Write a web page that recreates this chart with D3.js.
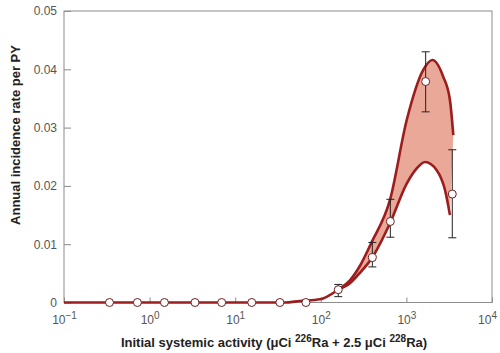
<!DOCTYPE html>
<html>
<head>
<meta charset="utf-8">
<script src="https://cdn.jsdelivr.net/npm/d3@7"></script>
<style>
 body{margin:0;background:#fff}
 svg text{font-family:"Liberation Sans",Arial,sans-serif}
</style>
</head>
<body>
<div id="container"></div>
<script>
const width = 500
const height = 353
const margin = {left:64, top:11, right:8, bottom:50.5}
const g_width = width - margin.left - margin.right
const g_height = height - margin.top - margin.bottom

// data
const zeroDose = [0.34, 0.72, 1.49, 3.39, 6.95, 15.6, 33.3, 67]
const ptDose = [160, 400, 649, 1679, 3436]
const ptRate = [0.0022, 0.0077, 0.0139, 0.0379, 0.0186]
const errHigh = [0.0031, 0.0103, 0.0177, 0.0430, 0.0262]
const errLow = [0.0010, 0.0061, 0.0112, 0.0327, 0.0111]

const upperDose = [0.1, 38, 57, 98, 159, 219, 287, 394, 643, 1009, 1574, 2009, 2698, 3228, 3532]
const upperRate = [0, 0, 0.00026, 0.00055, 0.0022, 0.0038, 0.0063, 0.0104, 0.0176, 0.0313, 0.0399, 0.0416, 0.0387, 0.0347, 0.0287]
const lowerDose = [159, 219, 287, 394, 643, 1009, 1321, 1652, 2259, 2825, 3228]
const lowerRate = [0.0022, 0.0033, 0.0051, 0.0076, 0.0136, 0.0204, 0.0230, 0.0241, 0.0227, 0.0193, 0.0150]

const xTicks = [0.1, 1, 10, 100, 1000, 10000]
const yTicks = [0, 0.01, 0.02, 0.03, 0.04, 0.05]

const red = '#9c1d1d'

const svg = d3.select('#container')
  .append('svg')
  .attr('width', width)
  .attr('height', height)

const g = svg.append('g')
  .attr('transform', `translate(${margin.left},${margin.top})`)

const scale_x = d3.scaleLog().domain([0.1, 10000]).range([0, g_width])
const scale_y = d3.scaleLinear().domain([0, 0.05]).range([g_height, 0])

// frame
g.append('rect')
  .attr('width', g_width).attr('height', g_height)
  .attr('fill', 'none').attr('stroke', '#8c8c8c').attr('stroke-width', 1)

// axes
const y_axis = d3.axisLeft(scale_y).tickValues(yTicks).tickSize(-7).tickPadding(7)
  .tickFormat(d => d === 0 ? '0' : d3.format('.2f')(d))
const yg = g.append('g').call(y_axis)
yg.select('.domain').remove()
yg.selectAll('line').attr('stroke', '#8c8c8c')
yg.selectAll('text').attr('fill', '#555').attr('font-size', 12)

const x_axis = d3.axisBottom(scale_x).tickValues(xTicks).tickSize(-5).tickPadding(13)
  .tickFormat('')
const xg = g.append('g').attr('transform', `translate(0,${g_height})`).call(x_axis)
xg.select('.domain').remove()
xg.selectAll('line').attr('stroke', '#8c8c8c')
xg.selectAll('.tick text').each(function(d){
  const t = d3.select(this).attr('fill', '#555').attr('font-size', 12)
  if (d === 10000) t.attr('dx', -5)
  t.append('tspan').text('10')
  t.append('tspan').attr('dy', -5).attr('font-size', 10)
    .text(String(Math.round(Math.log10(d))).replace('-', '\u2212'))
})

// band
const line = d3.line()
  .x(d => scale_x(d[0]))
  .y(d => scale_y(d[1]))
  .curve(d3.curveMonotoneX)

const upper = upperDose.map((d, i) => [d, upperRate[i]])
const lower = lowerDose.map((d, i) => [d, lowerRate[i]])
const upperBand = upper.filter(d => d[0] >= lowerDose[0])

// path: upper forward, then lower backwards
const pathLower = lower.slice().reverse()
g.append('path')
  .attr('d', line(upperBand) + 'L' + line(pathLower).slice(1) + 'Z')
  .attr('fill', '#eaa898')
  .attr('stroke', 'none')

g.append('path').attr('d', line(upper))
  .attr('fill', 'none').attr('stroke', red).attr('stroke-width', 2.6)
g.append('path').attr('d', line(lower))
  .attr('fill', 'none').attr('stroke', red).attr('stroke-width', 2.6)

// error bars
const eb = g.selectAll('.eb').data(ptDose).enter().append('g')
eb.append('line')
  .attr('x1', d => scale_x(d)).attr('x2', d => scale_x(d))
  .attr('y1', (d, i) => scale_y(errHigh[i])).attr('y2', (d, i) => scale_y(errLow[i]))
  .attr('stroke', '#222').attr('stroke-width', 1)
eb.append('line')
  .attr('x1', d => scale_x(d) - 4).attr('x2', d => scale_x(d) + 4)
  .attr('y1', (d, i) => scale_y(errHigh[i])).attr('y2', (d, i) => scale_y(errHigh[i]))
  .attr('stroke', '#222').attr('stroke-width', 1)
eb.append('line')
  .attr('x1', d => scale_x(d) - 4).attr('x2', d => scale_x(d) + 4)
  .attr('y1', (d, i) => scale_y(errLow[i])).attr('y2', (d, i) => scale_y(errLow[i]))
  .attr('stroke', '#222').attr('stroke-width', 1)

// points
g.selectAll('.z').data(zeroDose).enter().append('circle')
  .attr('cx', d => scale_x(d)).attr('cy', scale_y(0)).attr('r', 4)
  .attr('fill', '#fff').attr('stroke', '#6b2020').attr('stroke-width', 1)
g.selectAll('.p').data(ptDose).enter().append('circle')
  .attr('cx', d => scale_x(d)).attr('cy', (d, i) => scale_y(ptRate[i])).attr('r', 4)
  .attr('fill', '#fff').attr('stroke', '#6b2020').attr('stroke-width', 1)

// titles
svg.append('text')
  .attr('transform', 'translate(20,135) rotate(-90)')
  .attr('text-anchor', 'middle')
  .attr('font-size', 13).attr('font-weight', 'bold').attr('fill', '#222')
  .text('Annual incidence rate per PY')

const xt = svg.append('text')
  .attr('x', 274).attr('y', 347)
  .attr('text-anchor', 'middle')
  .attr('font-size', 13).attr('font-weight', 'bold').attr('fill', '#222')
xt.append('tspan').text('Initial systemic activity (\u03bcCi ')
xt.append('tspan').attr('dy', -5).attr('font-size', 10).text('226')
xt.append('tspan').attr('dy', 5).text('Ra + 2.5 \u03bcCi ')
xt.append('tspan').attr('dy', -5).attr('font-size', 10).text('228')
xt.append('tspan').attr('dy', 5).text('Ra)')
</script>
</body>
</html>
